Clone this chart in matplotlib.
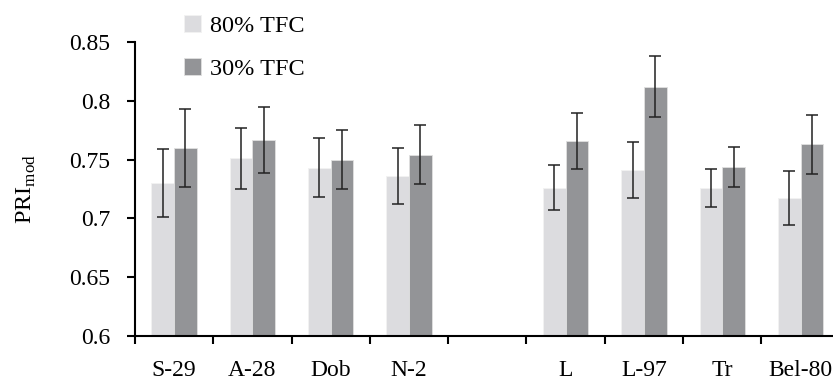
import numpy as np
import matplotlib
matplotlib.use("Agg")
import matplotlib.pyplot as plt

plt.rcParams['font.family'] = ['Liberation Serif', 'DejaVu Serif']
plt.rcParams['mathtext.fontset'] = 'custom'
plt.rcParams['mathtext.rm'] = 'Liberation Serif'

# dados
cultivares = ['S-29', 'A-28', 'Dob', 'N-2', 'L', 'L-97', 'Tr', 'Bel-80']
tfc80 = [0.730, 0.751, 0.743, 0.736, 0.726, 0.741, 0.726, 0.717]
tfc80_err = [0.029, 0.026, 0.025, 0.024, 0.019, 0.024, 0.016, 0.023]
tfc30 = [0.760, 0.767, 0.750, 0.754, 0.766, 0.812, 0.744, 0.763]
tfc30_err = [0.033, 0.028, 0.025, 0.025, 0.024, 0.026, 0.017, 0.025]

# espaço vazio entre os dois grupos
pos = np.array([i + (1 if i >= 4 else 0) for i in range(len(cultivares))])
w = 0.29

fig = plt.figure(figsize=(8.33, 3.81), dpi=100)
ax = fig.add_axes([0.162, 0.118, 0.846, 0.772])

ax.bar(pos - w / 2, tfc80, w, color='#dcdcdf', edgecolor='#f2f2f2', linewidth=0.6, label='80% TFC',
       yerr=tfc80_err, error_kw=dict(ecolor='#222222', elinewidth=1.1, capsize=4, capthick=1.1))
ax.bar(pos + w / 2, tfc30, w, color='#939497', edgecolor='#e0e0e0', linewidth=0.6, label='30% TFC',
       yerr=tfc30_err, error_kw=dict(ecolor='#222222', elinewidth=1.1, capsize=4, capthick=1.1))

ax.set_xlim(-0.5, 8.5)
ax.set_ylim(0.6, 0.85)
ax.set_yticks([0.6, 0.65, 0.7, 0.75, 0.8, 0.85])
ax.set_yticklabels(['0.6', '0.65', '0.7', '0.75', '0.8', '0.85'])

ax.set_xticks(pos)
ax.set_xticklabels(cultivares)
ax.set_xticks(np.arange(-0.5, 9.0, 1.0), minor=True)
ax.tick_params(axis='x', which='major', length=0, pad=17, labelsize=17)
ax.tick_params(axis='x', which='minor', length=6, width=1.5, direction='out')
ax.tick_params(axis='y', length=6, width=1.5, pad=12, labelsize=17)

for s in ['top', 'right']:
    ax.spines[s].set_visible(False)
ax.spines['left'].set_linewidth(1.5)
ax.spines['bottom'].set_linewidth(1.5)

ax.set_ylabel('PRI$_{\\mathrm{mod}}$', fontsize=17.5, labelpad=22)

ax.legend(loc='upper left', bbox_to_anchor=(0.038, 1.165), frameon=False, fontsize=17.5,
          handlelength=0.7, handleheight=0.7, handletextpad=0.4, labelspacing=0.85)

fig.savefig('out.png', dpi=100)
